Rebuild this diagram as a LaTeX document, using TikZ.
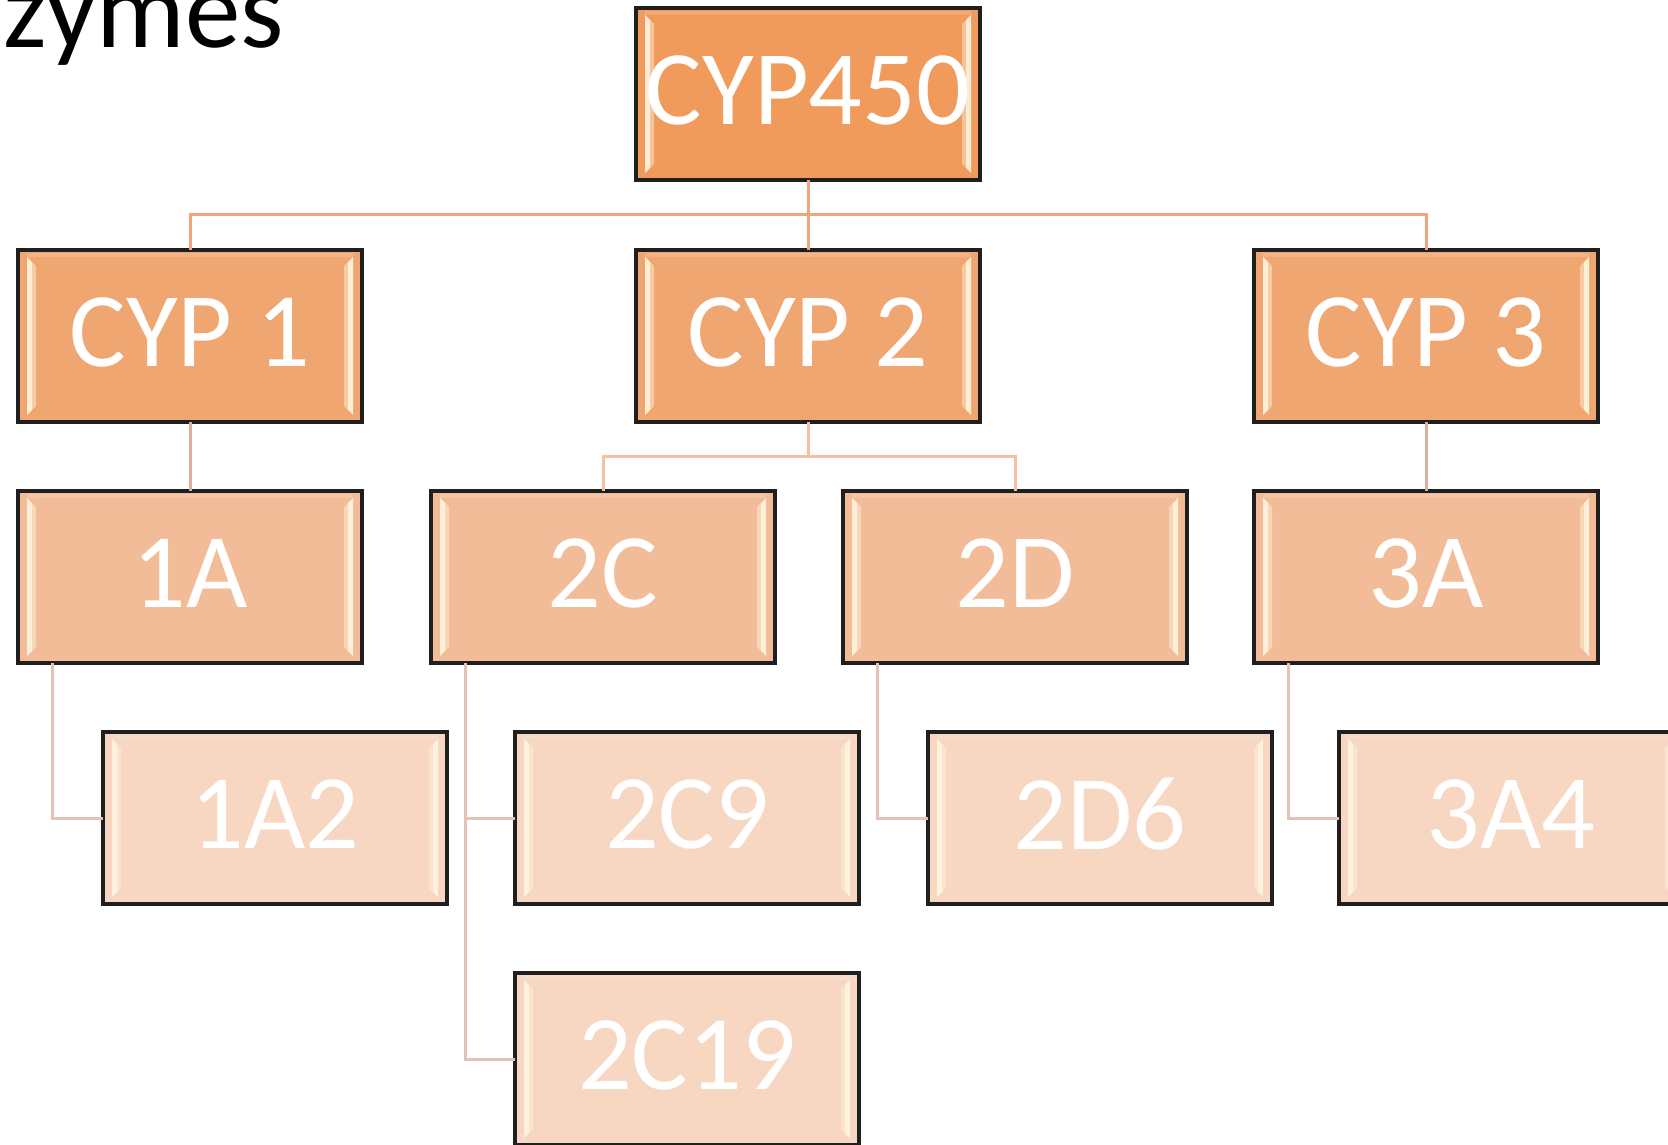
\documentclass[tikz,border=0pt]{standalone}
\usepackage{fontspec}
\setmainfont{Carlito}
\definecolor{lzero}{HTML}{F09A5C}
\definecolor{lone}{HTML}{F0A670}
\definecolor{ltwo}{HTML}{F3BC98}
\definecolor{lthree}{HTML}{F7D7C2}
\definecolor{conA}{HTML}{F3A47A}
\definecolor{conB}{HTML}{F6BFA2}
\definecolor{conC}{HTML}{D8AEA1}
\definecolor{conD}{HTML}{E2C4B7}
\definecolor{bevlight}{HTML}{FFF6E0}
\tikzset{
  bevelbox/.style={draw=black!88, line width=3.2pt, minimum width=344pt, minimum height=172pt,
    inner sep=0pt, outer sep=0pt,
    path picture={
      \fill[bevlight,opacity=0.9] ([xshift=9pt,yshift=-7pt]path picture bounding box.north west) -- ++(5pt,-5pt)
        -- ([xshift=14pt,yshift=12pt]path picture bounding box.south west) -- ++(-5pt,-5pt) -- cycle;
      \fill[bevlight,opacity=0.45] ([xshift=14pt,yshift=-12pt]path picture bounding box.north west) -- ++(4pt,-4pt)
        -- ([xshift=18pt,yshift=16pt]path picture bounding box.south west) -- ++(-4pt,-4pt) -- cycle;
      \fill[bevlight,opacity=0.9] ([xshift=-9pt,yshift=-7pt]path picture bounding box.north east) -- ++(-5pt,-5pt)
        -- ([xshift=-14pt,yshift=12pt]path picture bounding box.south east) -- ++(5pt,-5pt) -- cycle;
      \fill[bevlight,opacity=0.45] ([xshift=-14pt,yshift=-12pt]path picture bounding box.north east) -- ++(-4pt,-4pt)
        -- ([xshift=-18pt,yshift=16pt]path picture bounding box.south east) -- ++(4pt,-4pt) -- cycle;
      \fill[white,opacity=0.15] ([xshift=9pt,yshift=-3pt]path picture bounding box.north west) rectangle ([xshift=-9pt,yshift=-7pt]path picture bounding box.north east);
    }},
  lvzero/.style={bevelbox, fill=lzero},
  lvone/.style={bevelbox, fill=lone},
  lvtwo/.style={bevelbox, fill=ltwo},
  lvthree/.style={bevelbox, fill=lthree},
  boxtext/.style={text=white, inner sep=0pt, font=\fontsize{106}{110}\selectfont},
  linkA/.style={draw=conA, line width=3pt},
  linkB/.style={draw=conB, line width=3pt},
  linkC/.style={draw=conC, line width=3pt},
  linkD/.style={draw=conD, line width=3pt},
}
\begin{document}
\begin{tikzpicture}[x=1pt,y=-1pt]
\useasboundingbox (0,0) rectangle (1668,1145);
\clip (0,0) rectangle (1668,1145);
\fill[white] (0,0) rectangle (1668,1145);

\node[anchor=base west, inner sep=0pt, font=\fontsize{111}{115}\selectfont] (title) at (3,48) {zymes};

% boxes
\node[lvzero] (cyp450) at (808,94) {};
\node[lvone] (cyp1) at (190,336) {};
\node[lvone] (cyp2) at (808,336) {};
\node[lvone] (cyp3) at (1426,336) {};
\node[lvtwo] (a1) at (190,577) {};
\node[lvtwo] (c2) at (603,577) {};
\node[lvtwo] (d2) at (1015,577) {};
\node[lvtwo] (a3) at (1426,577) {};
\node[lvthree] (a12) at (275,818) {};
\node[lvthree] (c29) at (687,818) {};
\node[lvthree] (d26) at (1100,818) {};
\node[lvthree] (a34) at (1511,818) {};
\node[lvthree] (c219) at (687,1059) {};

% labels
\node[boxtext] (t450) at ([yshift=4pt]cyp450.center) {CYP450};
\node[boxtext] (t1) at ([yshift=4pt]cyp1.center) {CYP 1};
\node[boxtext] (t2) at ([yshift=4pt]cyp2.center) {CYP 2};
\node[boxtext] (t3) at ([yshift=4pt]cyp3.center) {CYP 3};
\node[boxtext] (t1a) at ([yshift=4pt]a1.center) {1A};
\node[boxtext] (t2c) at ([yshift=4pt]c2.center) {2C};
\node[boxtext] (t2d) at ([yshift=4pt]d2.center) {2D};
\node[boxtext] (t3a) at ([yshift=4pt]a3.center) {3A};
\node[boxtext] (t1a2) at ([yshift=4pt]a12.center) {1A2};
\node[boxtext] (t2c9) at ([yshift=4pt]c29.center) {2C9};
\node[boxtext] (t2d6) at ([yshift=4pt]d26.center) {2D6};
\node[boxtext] (t3a4) at ([yshift=4pt]a34.center) {3A4};
\node[boxtext] (t2c19) at ([yshift=4pt]c219.center) {2C19};

% connectors
\coordinate (busA) at (808,214);
\coordinate (busB) at (808,456);
\draw[linkA] (cyp450.south) -- (busA);
\draw[linkA] (busA) -| (cyp1.north);
\draw[linkA] (busA) -| (cyp3.north);
\draw[linkA] (busA) -- (cyp2.north);
\draw[linkC] (cyp1.south) -- (a1.north);
\draw[linkC] (cyp3.south) -- (a3.north);
\draw[linkB] (cyp2.south) -- (busB);
\draw[linkB] (busB) -| (c2.north);
\draw[linkB] (busB) -| (d2.north);
\draw[linkD] ([xshift=34pt]a1.south west) |- (a12.west);
\draw[linkD] ([xshift=34pt]c2.south west) |- (c29.west);
\draw[linkD] ([xshift=34pt]c2.south west) |- (c219.west);
\draw[linkD] ([xshift=34pt]d2.south west) |- (d26.west);
\draw[linkD] ([xshift=34pt]a3.south west) |- (a34.west);
\end{tikzpicture}
\end{document}
